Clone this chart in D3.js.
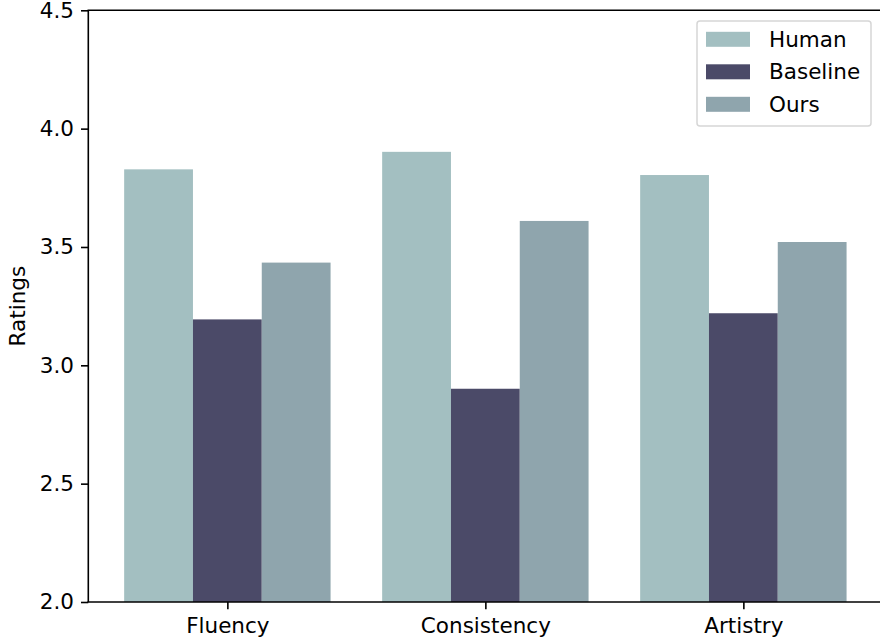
<!DOCTYPE html>
<html><head><meta charset="utf-8">
<script src="https://cdn.jsdelivr.net/npm/d3@7"></script>
<style>body{margin:0;background:#fff}svg{display:block}text{font-family:"DejaVu Sans",sans-serif;fill:#000}</style>
</head><body>
<script>
const categories = ["Fluency", "Consistency", "Artistry"];
const seriesNames = ["Human", "Baseline", "Ours"];
const human = [3.828, 3.902, 3.804];
const baseline = [3.194, 2.901, 3.220];
const ours = [3.434, 3.610, 3.521];
const yTicks = [2.0, 2.5, 3.0, 3.5, 4.0, 4.5];
const colors = ["#a3bfc1", "#4b4a68", "#8fa5ad"];
const values = [human, baseline, ours];

const W = 880, H = 643;
const L = 88.3, T = 10.3, B = 602;
const fs = 21.5;
const svg = d3.select("body").append("svg").attr("width", W).attr("height", H);

const x = d3.scaleLinear().domain([-0.539, 2.539]).range([L, L + 3.078 * 258]);
const y = d3.scaleLinear().domain([2.0, 4.5]).range([B, T]);
const bw = 0.8 / 3;

seriesNames.forEach((s, si) => {
  svg.append("g").selectAll("rect").data(values[si]).join("rect")
    .attr("x", (d, i) => x(i - 0.4 + si * bw))
    .attr("width", x(bw) - x(0))
    .attr("y", d => y(d))
    .attr("height", d => y(2.0) - y(d))
    .attr("fill", colors[si]);
});

const yAxis = d3.axisLeft(y).tickValues(yTicks).tickFormat(d3.format(".1f")).tickSize(7.3).tickPadding(7);
const gy = svg.append("g").attr("transform", `translate(${L},0)`).call(yAxis);
const xAxis = d3.axisBottom(x).tickValues([0, 1, 2]).tickFormat(i => categories[i]).tickSize(7.3).tickPadding(8);
const gx = svg.append("g").attr("transform", `translate(0,${B})`).call(xAxis);
[gx, gy].forEach(g => {
  g.attr("font-size", fs).attr("font-family", "DejaVu Sans");
  g.selectAll(".domain").remove();
  g.selectAll("line").attr("stroke", "#000").attr("stroke-width", 1.6);
  g.selectAll("text").attr("fill", "#000");
});
svg.append("line").attr("x1", L).attr("x2", L).attr("y1", T).attr("y2", B).attr("stroke", "#000").attr("stroke-width", 1.6);
svg.append("line").attr("x1", L - 0.8).attr("x2", x(2.539)).attr("y1", B).attr("y2", B).attr("stroke", "#000").attr("stroke-width", 1.6);
svg.append("line").attr("x1", L - 0.8).attr("x2", x(2.539)).attr("y1", T).attr("y2", T).attr("stroke", "#000").attr("stroke-width", 1.6);
svg.append("line").attr("x1", x(2.539)).attr("x2", x(2.539)).attr("y1", T).attr("y2", B).attr("stroke", "#000").attr("stroke-width", 1.6);

svg.append("text").attr("transform", `translate(25,${(T + B) / 2}) rotate(-90)`)
  .attr("text-anchor", "middle").attr("font-size", fs).text("Ratings");

const lg = svg.append("g");
lg.append("rect").attr("x", 697).attr("y", 21).attr("width", 174).attr("height", 105)
  .attr("rx", 3).attr("fill", "#fff").attr("fill-opacity", 0.8).attr("stroke", "#d6d6d6").attr("stroke-width", 1.5);
seriesNames.forEach((s, i) => {
  const cy = 39.3 + i * 32.5;
  lg.append("rect").attr("x", 706).attr("y", cy - 7.5).attr("width", 44).attr("height", 15).attr("fill", colors[i]);
  lg.append("text").attr("x", 769).attr("y", cy + 7.5).attr("font-size", fs).text(s);
});
</script>
</body></html>
